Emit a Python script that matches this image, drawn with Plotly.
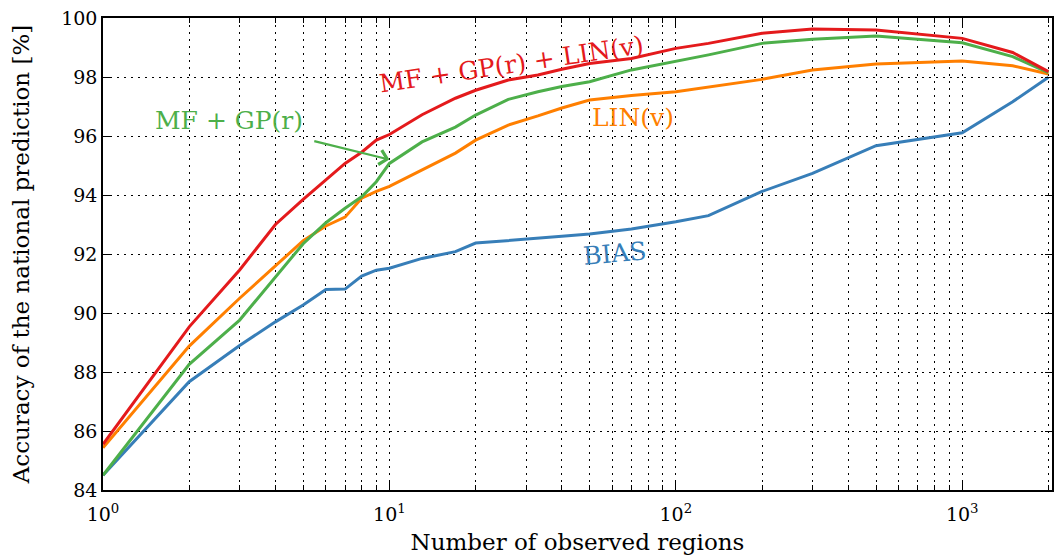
import math
import plotly.graph_objects as go

# Number of observed regions (x) and national prediction accuracy [%] per model
regions = [1, 2, 3, 4, 5, 6, 7, 8, 9, 10, 13, 17, 20, 26, 33, 40, 50, 70, 100,
           130, 200, 300, 500, 1000, 1500, 2000]

acc_bias = [84.5, 87.67, 88.9, 89.7, 90.27, 90.8, 90.81, 91.25, 91.45, 91.52,
            91.85, 92.08, 92.37, 92.45, 92.53, 92.6, 92.68, 92.85, 93.09,
            93.3, 94.12, 94.73, 95.67, 96.11, 97.16, 97.99]

acc_lin = [85.43, 88.88, 90.5, 91.6, 92.45, 92.95, 93.25, 93.89, 94.12, 94.29,
           94.85, 95.42, 95.86, 96.37, 96.68, 96.95, 97.22, 97.37, 97.5,
           97.65, 97.92, 98.24, 98.44, 98.54, 98.38, 98.1]

acc_mf_gp = [84.5, 88.26, 89.76, 91.2, 92.35, 93.06, 93.55, 93.94, 94.45, 95.07,
             95.8, 96.3, 96.71, 97.24, 97.5, 97.68, 97.84, 98.24, 98.52,
             98.75, 99.14, 99.28, 99.39, 99.16, 98.69, 98.15]

acc_mf_gp_lin = [85.55, 89.53, 91.46, 93.0, 93.85, 94.51, 95.07, 95.45, 95.86, 96.05,
                 96.72, 97.28, 97.55, 97.9, 98.07, 98.26, 98.46, 98.63, 98.97,
                 99.14, 99.48, 99.63, 99.59, 99.31, 98.83, 98.18]

major_x = [1, 10, 100, 1000]
major_x_text = ["10<sup>0</sup>", "10<sup>1</sup>", "10<sup>2</sup>", "10<sup>3</sup>"]
minor_x = [m * d for d in (1, 10, 100) for m in range(2, 10)] + [2000]
y_ticks = [84, 86, 88, 90, 92, 94, 96, 98, 100]

BLUE = "#377eb8"
ORANGE = "#ff7f00"
GREEN = "#4daf4a"
RED = "#e41a1c"
FONT = "DejaVu Serif"

fig = go.Figure()
for ys, col in [(acc_bias, BLUE), (acc_lin, ORANGE), (acc_mf_gp, GREEN), (acc_mf_gp_lin, RED)]:
    fig.add_trace(go.Scatter(x=regions, y=ys, mode="lines",
                             line=dict(color=col, width=3), showlegend=False))

grid_dash = "2px,5px"

fig.update_layout(
    width=1054, height=559,
    margin=dict(l=103, r=0, t=18, b=69),
    paper_bgcolor="white", plot_bgcolor="white",
    font=dict(family=FONT, color="black", size=19),
    xaxis=dict(
        type="log", range=[0, 3.3134],
        tickvals=major_x, ticktext=major_x_text,
        ticks="inside", ticklen=10, tickwidth=1.2, tickcolor="black",
        showline=True, linecolor="black", linewidth=1.5, mirror="allticks",
        showgrid=True, gridcolor="black", gridwidth=1, griddash=grid_dash,
        zeroline=False, ticklabelstandoff=6,
        tickfont=dict(size=19, family=FONT),
        minor=dict(tickvals=minor_x, ticks="inside", ticklen=5, tickwidth=1,
                   tickcolor="black", showgrid=True, gridcolor="black",
                   gridwidth=1, griddash=grid_dash),
        title=dict(text="Number of observed regions", font=dict(size=23, family=FONT), standoff=10),
    ),
    yaxis=dict(
        range=[84, 100], tickvals=y_ticks,
        ticks="inside", ticklen=7, tickwidth=1.2, tickcolor="black",
        showline=True, linecolor="black", linewidth=1.5, mirror="ticks",
        showgrid=True, gridcolor="black", gridwidth=1, griddash=grid_dash,
        zeroline=False,
        tickfont=dict(size=19, family=FONT),
        title=dict(text="Accuracy of the national prediction [%]", font=dict(size=23, family=FONT), standoff=25),
    ),
)

L = math.log10
# series labels
fig.add_annotation(x=1.425, y=98.44, text="MF + GP(r) + LIN(v)", showarrow=False,
                   textangle=-8.5, font=dict(color=RED, size=25, family=FONT))
fig.add_annotation(x=1.85, y=96.64, text="LIN(v)", showarrow=False,
                   font=dict(color=ORANGE, size=25, family=FONT))
fig.add_annotation(x=1.787, y=92.03, text="BIAS", showarrow=False,
                   textangle=-5, font=dict(color=BLUE, size=25, family=FONT))
fig.add_annotation(x=0.439, y=96.51, text="MF + GP(r)", showarrow=False,
                   font=dict(color=GREEN, size=25, family=FONT))
# arrow pointing at the MF + GP(r) curve
fig.add_annotation(x=L(10), y=95.2, ax=L(5.4), ay=95.84, axref="x", ayref="y",
                   xref="x", yref="y", text="", showarrow=True,
                   arrowhead=4, arrowsize=1.3, arrowwidth=2.2, arrowcolor=GREEN, standoff=0)

fig.write_html("out.html")
